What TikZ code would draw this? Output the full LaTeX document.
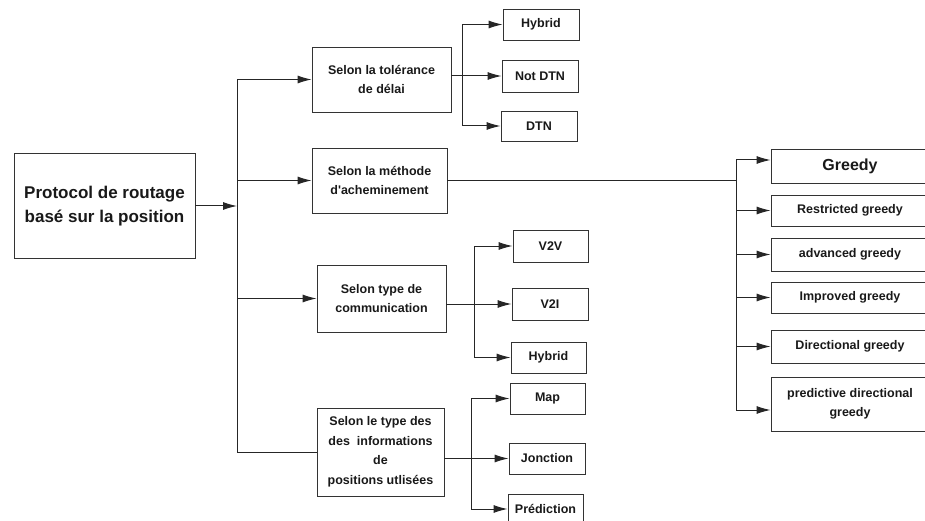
\documentclass[tikz,border=0pt]{standalone}
\usepackage{fontspec}
\newfontfamily\arialf{Liberation Sans}
\usetikzlibrary{arrows.meta}
\tikzset{
  boxnode/.style={draw=black!80, line width=0.9pt, align=center, inner sep=0pt,
    font=\arialf\bfseries\fontsize{12.5}{15}\selectfont, text=black!90},
  bignode/.style={boxnode, font=\arialf\bfseries\fontsize{17}{20}\selectfont},
  greedynode/.style={boxnode, font=\arialf\bfseries\fontsize{16}{19}\selectfont},
  conn/.style={draw=black!85, line width=1pt},
  arr/.style={conn, -{Latex[length=14pt,width=8pt]}}
}
\begin{document}
\begin{tikzpicture}[x=1pt,y=-1pt]
\clip (0,0) rectangle (925,521);
\fill[white] (0,0) rectangle (925,521);

% main
\node[bignode, minimum width=181pt, minimum height=105pt] (main) at (104.5,206) {Protocol de routage\\[4pt]basé sur la position};

% level 1
\node[boxnode, minimum width=139pt, minimum height=65pt] (m1) at (381.5,79.5) {Selon la tolérance\\[4.5pt]de délai};
\node[boxnode, minimum width=135pt, minimum height=65pt] (m2) at (379.5,180.5) {Selon la méthode\\[4.5pt]d'acheminement};
\node[boxnode, minimum width=129pt, minimum height=67pt] (m3) at (381.5,298.5) {Selon type de\\[4.5pt]communication};
\node[boxnode, minimum width=127pt, minimum height=88pt] (m4) at (380.5,452) {Selon le type des\\[4.5pt]des\ \ informations\\[4.5pt]de\\[4.5pt]positions utlisées};

% leaves of m1
\node[boxnode, minimum width=76pt, minimum height=31pt] (h1) at (541,24.5) {Hybrid};
\node[boxnode, minimum width=76pt, minimum height=32pt] (n1) at (540,76) {Not DTN};
\node[boxnode, minimum width=76pt, minimum height=30pt] (d1) at (539,126) {DTN};

% leaves of m3
\node[boxnode, minimum width=75pt, minimum height=32pt] (v1) at (550.5,246) {V2V};
\node[boxnode, minimum width=76pt, minimum height=32pt] (v2) at (550,304) {V2I};
\node[boxnode, minimum width=75pt, minimum height=31pt] (hy2) at (548.5,357.5) {Hybrid};

% leaves of m4
\node[boxnode, minimum width=75pt, minimum height=31pt] (mp) at (547.5,398.5) {Map};
\node[boxnode, minimum width=76pt, minimum height=31pt] (jn) at (547,458.5) {Jonction};
\node[boxnode, minimum width=75pt, minimum height=30pt] (pr) at (545.5,509) {Prédiction};

% right column
\node[greedynode, minimum width=158pt, minimum height=34pt] (g1) at (850,166) {Greedy};
\node[boxnode, minimum width=158pt, minimum height=31pt] (g2) at (850,210.5) {Restricted greedy};
\node[boxnode, minimum width=158pt, minimum height=33pt] (g3) at (850,254.5) {advanced greedy};
\node[boxnode, minimum width=158pt, minimum height=31pt] (g4) at (850,297.5) {Improved greedy};
\node[boxnode, minimum width=158pt, minimum height=33pt] (g5) at (850,346.5) {Directional greedy};
\node[boxnode, minimum width=158pt, minimum height=54pt] (g6) at (850,404) {predictive directional\\[4pt]greedy};

% bus coordinates
\coordinate (bus) at (237,0);
\coordinate (c1) at (462,0);
\coordinate (c3) at (474,0);
\coordinate (c4) at (471,0);
\coordinate (rb) at (736,0);
\coordinate (rtop) at (736,160);

% main connectors
\draw[arr] (main.east) -- (bus |- main.east);
\draw[conn] (bus |- m1.west) -- (bus |- m4.west);
\draw[arr] (bus |- m1.west) -- (m1.west);
\draw[arr] (bus |- m2.west) -- (m2.west);
\draw[arr] (bus |- m3.west) -- (m3.west);
\draw[conn] (bus |- m4.west) -- (m4.west);

% m1 group
\draw[conn] (m1.east |- n1.west) -- (c1 |- n1.west);
\draw[conn] (c1 |- h1.west) -- (c1 |- d1.west);
\draw[arr] (c1 |- h1.west) -- (h1.west);
\draw[arr] (c1 |- n1.west) -- (n1.west);
\draw[arr] (c1 |- d1.west) -- (d1.west);

% m3 group
\draw[conn] (m3.east |- v2.west) -- (c3 |- v2.west);
\draw[conn] (c3 |- v1.west) -- (c3 |- hy2.west);
\draw[arr] (c3 |- v1.west) -- (v1.west);
\draw[arr] (c3 |- v2.west) -- (v2.west);
\draw[arr] (c3 |- hy2.west) -- (hy2.west);

% m4 group
\draw[conn] (m4.east |- jn.west) -- (c4 |- jn.west);
\draw[conn] (c4 |- mp.west) -- (c4 |- pr.west);
\draw[arr] (c4 |- mp.west) -- (mp.west);
\draw[arr] (c4 |- jn.west) -- (jn.west);
\draw[arr] (c4 |- pr.west) -- (pr.west);

% m2 group
\draw[conn] (m2.east) -- (rb |- m2.east);
\draw[conn] (rtop) -- ([yshift=-6pt]rb |- g6.west);
\draw[arr] (rtop) -- (rtop -| g1.west);
\draw[arr] (rb |- g2.west) -- (g2.west);
\draw[arr] (rb |- g3.west) -- (g3.west);
\draw[arr] (rb |- g4.west) -- (g4.west);
\draw[arr] (rb |- g5.west) -- (g5.west);
\draw[arr] ([yshift=-6pt]rb |- g6.west) -- ([yshift=-6pt]g6.west);
\end{tikzpicture}
\end{document}
